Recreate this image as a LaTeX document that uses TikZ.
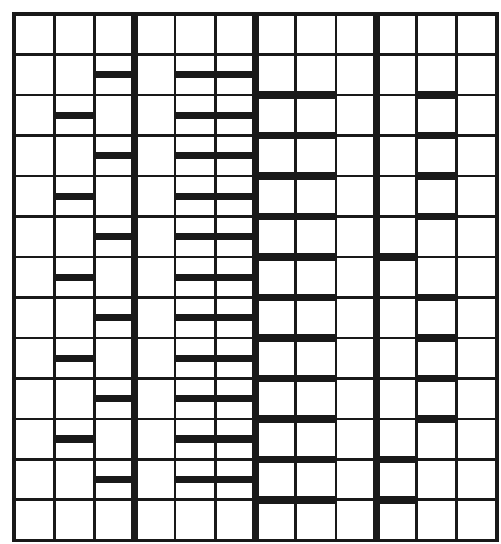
\documentclass[tikz,border=0pt]{standalone}
\begin{document}
\begin{tikzpicture}[x=1cm, y=1.006cm,
  rule/.style={line width=2pt, black!90},
  heavy/.style={line width=4.8pt, black!90},
  bar/.style={line width=5.2pt, black!90}]
\useasboundingbox (-0.348,-0.089) rectangle (12.099,13.346);
\foreach \i in {0,...,12}
  \draw[rule] (\i,0) -- (\i,13);
\foreach \j in {0,...,13}
  \draw[rule] (0,\j) -- (12,\j);
\draw[rule, line width=2.4pt] (0,0) rectangle (12,13);
\foreach \i in {3,6,9}
  \draw[heavy] (\i,0) -- (\i,13);
\foreach \y in {10.5,8.5,...,2.5}
  \draw[bar] (1,\y) -- (2,\y);
\foreach \y in {11.5,9.5,...,1.5}
  \draw[bar] (2,\y) -- (3,\y);
\foreach \y in {11.5,10.5,...,1.5}
  \draw[bar] (4,\y) -- (6,\y);
\foreach \y in {11,...,1}
  \draw[bar] (6,\y) -- (8,\y);
\foreach \y in {7,2,1}
  \draw[bar] (9,\y) -- (10,\y);
\foreach \y in {11,10,9,8,6,5,4,3}
  \draw[bar] (10,\y) -- (11,\y);
\end{tikzpicture}
\end{document}
